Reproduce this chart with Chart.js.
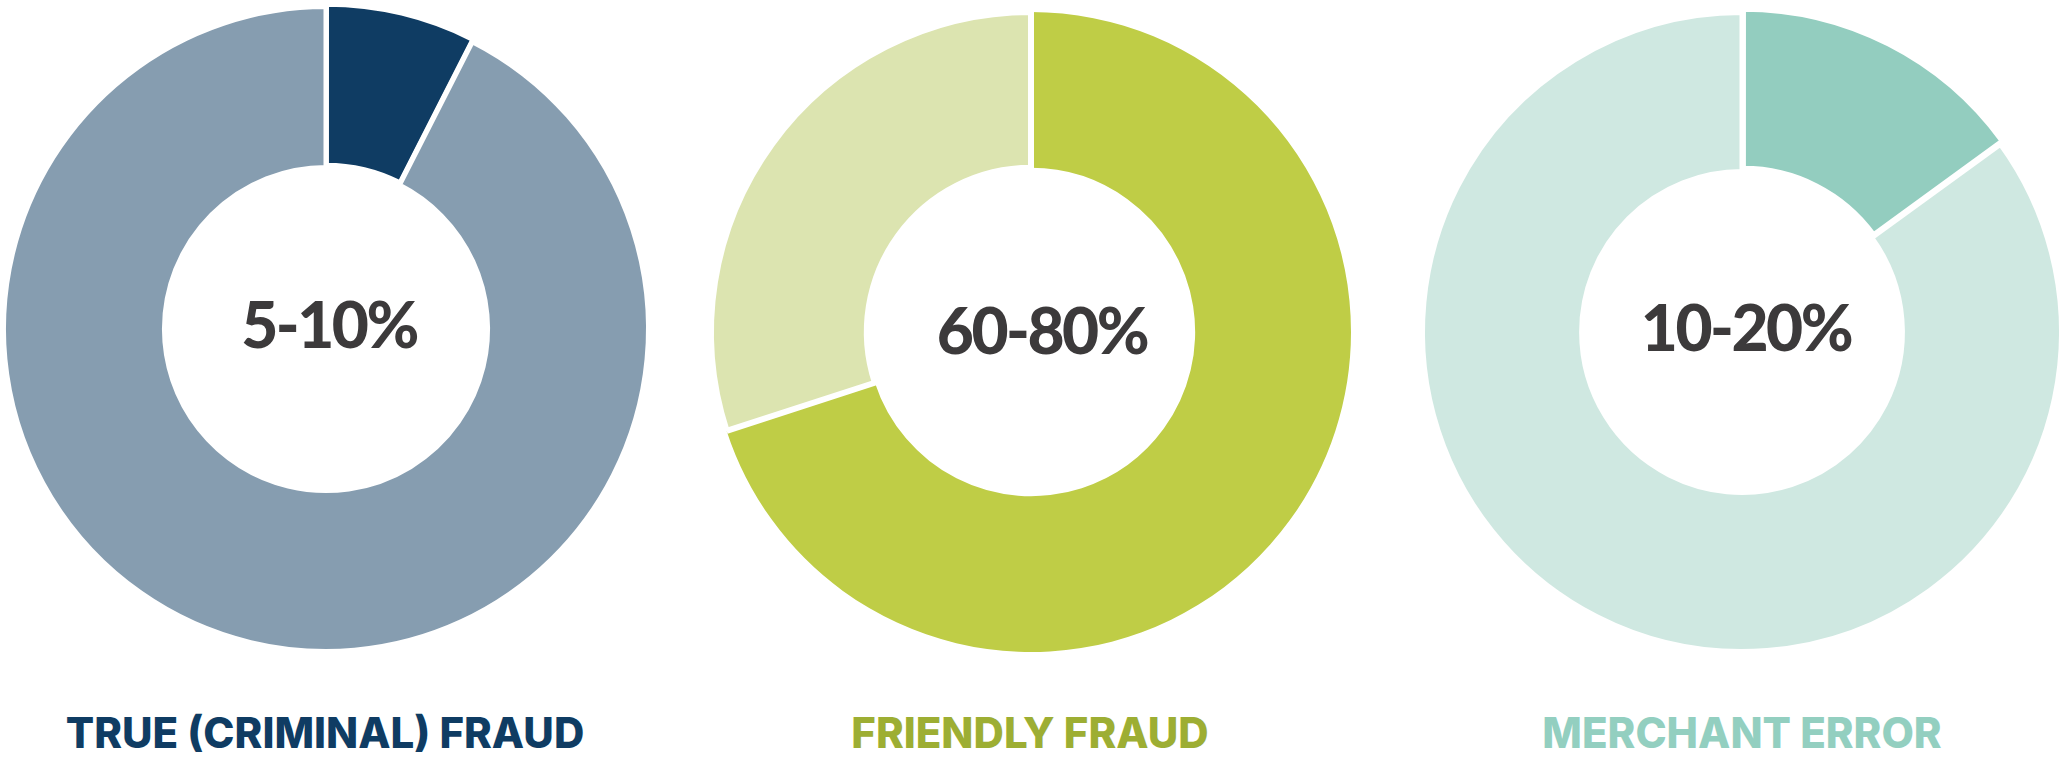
<!DOCTYPE html>
<html>
<head>
<meta charset="utf-8">
<script src="https://cdn.jsdelivr.net/npm/chart.js@4.4.1/dist/chart.umd.min.js"></script>
<style>
  html, body { margin: 0; padding: 0; background: #ffffff; width: 2059px; height: 758px; overflow: hidden; position: relative; }
  .box { position: absolute; width: 680px; height: 680px; }
  .center { position: absolute; width: 400px; margin-left: -200px; text-align: center;
            font-family: Lato, "Open Sans", sans-serif; font-weight: 900; font-size: 64px; line-height: 64px;
            letter-spacing: -2.5px; color: #3c3a3b; }
  .label { position: absolute; width: 700px; margin-left: -350px; text-align: center;
           font-family: Inter, "Noto Sans", sans-serif; font-weight: 800; font-size: 42px; line-height: 42px;
           letter-spacing: 0px; white-space: nowrap; }
</style>
</head>
<body>
<script>
// ---- data ----
const categories = ['TRUE (CRIMINAL) FRAUD', 'FRIENDLY FRAUD', 'MERCHANT ERROR'];
const centerLabels = ['5-10%', '60-80%', '10-20%'];
const segmentNames = ['Share of chargebacks', 'Other'];
const trueFraud = [7.5, 92.5];
const friendlyFraud = [70, 30];
const merchantError = [15, 85];

// ---- styling / layout (not data) ----
const seriesList = [trueFraud, friendlyFraud, merchantError];
const layout = [
  { cx: 326,  cy: 328.5, radius: 322.5, cutout: '50.1%', border: [5, 5], offset: [6, 0],
    colors: ['#0f3c63', '#869db0'], label: '#0f3c63', textX: 329,  textY: 325.5 },
  { cx: 1031, cy: 331.5, radius: 320,   cutout: '51.3%', border: [0, 6], offset: [0, 0],
    colors: ['#bfcd46', '#dce4b0'], label: '#9dae33', textX: 1042, textY: 331.5 },
  { cx: 1742, cy: 332,   radius: 319.5, cutout: '50.2%', border: [5, 5], offset: [12, 0],
    colors: ['#93cdbf', '#cfe8e1'], label: '#93cfc0', textX: 1746, textY: 328.5 }
];

const BOX = 680;
seriesList.forEach((values, i) => {
  const L = layout[i];
  const box = document.createElement('div');
  box.className = 'box';
  box.style.left = (L.cx - BOX / 2) + 'px';
  box.style.top = (L.cy - BOX / 2) + 'px';
  const canvas = document.createElement('canvas');
  box.appendChild(canvas);
  document.body.appendChild(box);

  new Chart(canvas, {
    type: 'doughnut',
    data: {
      labels: segmentNames,
      datasets: [{
        data: values,
        backgroundColor: L.colors,
        borderColor: '#ffffff',
        borderWidth: L.border,
        offset: L.offset
      }]
    },
    options: {
      responsive: true,
      maintainAspectRatio: false,
      devicePixelRatio: 1,
      animation: false,
      radius: L.radius,
      cutout: L.cutout,
      rotation: 0,
      layout: { padding: 0 },
      plugins: { legend: { display: false }, tooltip: { enabled: false }, title: { display: false } }
    }
  });

  const c = document.createElement('div');
  c.className = 'center';
  c.textContent = centerLabels[i];
  c.style.left = L.textX + 'px';
  c.style.top = (L.textY - 34) + 'px';
  document.body.appendChild(c);

  const t = document.createElement('div');
  t.className = 'label';
  t.textContent = categories[i];
  t.style.color = L.label;
  t.style.left = ([325, 1030, 1742][i]) + 'px';
  t.style.top = '712px';
  document.body.appendChild(t);
});
</script>
</body>
</html>
